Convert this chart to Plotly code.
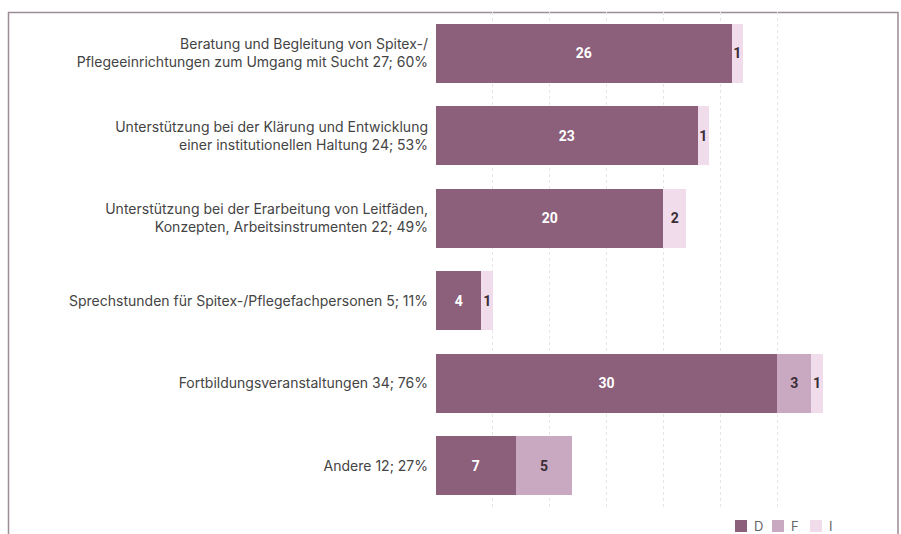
import plotly.graph_objects as go

categories = [
    "Beratung und Begleitung von Spitex-/<br>Pflegeeinrichtungen zum Umgang mit Sucht 27; 60%",
    "Unterstützung bei der Klärung und Entwicklung<br>einer institutionellen Haltung 24; 53%",
    "Unterstützung bei der Erarbeitung von Leitfäden,<br>Konzepten, Arbeitsinstrumenten 22; 49%",
    "Sprechstunden für Spitex-/Pflegefachpersonen 5; 11%",
    "Fortbildungsveranstaltungen 34; 76%",
    "Andere 12; 27%",
]
series_names = ["D", "F", "I"]
values_D = [26, 23, 20, 4, 30, 7]
values_F = [0, 0, 0, 0, 3, 5]
values_I = [1, 1, 2, 1, 1, 0]
series_values = [values_D, values_F, values_I]
colors = ["#8c5f7b", "#c9a8c1", "#f1dcec"]
text_colors = ["#ffffff", "#3a2d35", "#3a2d35"]

W, H = 901, 534
L, R, T, B = 436, 67, 12, 27
pw, ph = W - L - R, H - T - B
FONT = "Inter, Roboto, Arial, sans-serif"

fig = go.Figure()
for name, vals, col, tc in zip(series_names, series_values, colors, text_colors):
    fig.add_trace(go.Bar(
        y=categories, x=vals, name=name, orientation="h",
        marker=dict(color=col, line=dict(width=0)),
        text=[str(v) if v else "" for v in vals],
        textposition="inside", insidetextanchor="middle",
        textangle=0, constraintext="none",
        textfont=dict(family="Roboto, Arial, sans-serif", size=14, color=tc, weight="bold"),
        showlegend=False,
    ))

def px_to_paper_x(px):
    return (px - L) / pw

def px_to_paper_y(py):
    return (H - B - py) / ph

shapes = [dict(
    type="rect", xref="paper", yref="paper",
    x0=px_to_paper_x(8.5), x1=px_to_paper_x(898), y0=px_to_paper_y(560), y1=px_to_paper_y(12.5),
    line=dict(color="#9c8c96", width=1.5), fillcolor="rgba(0,0,0,0)", layer="below",
)]
annotations = []
legend_x = [735, 772, 810]
for name, col, lx in zip(series_names, colors, legend_x):
    shapes.append(dict(
        type="rect", xref="paper", yref="paper",
        x0=px_to_paper_x(lx), x1=px_to_paper_x(lx + 12),
        y0=px_to_paper_y(532), y1=px_to_paper_y(520),
        line=dict(width=0), fillcolor=col,
    ))
    annotations.append(dict(
        xref="paper", yref="paper", x=px_to_paper_x(lx + 17), y=px_to_paper_y(526),
        text=name, showarrow=False, xanchor="left", yanchor="middle",
        font=dict(family=FONT, size=13, color="#666666"),
    ))

fig.update_layout(
    width=W, height=H,
    margin=dict(l=L, r=R, t=T, b=B, pad=0),
    barmode="stack", bargap=0.285,
    plot_bgcolor="white", paper_bgcolor="white",
    font=dict(family=FONT, size=14, color="#444444"),
    xaxis=dict(range=[0, 35], dtick=5, showticklabels=False, showgrid=True,
               gridcolor="#e6e6e6", griddash="dot", gridwidth=1,
               zeroline=False, showline=False, fixedrange=True),
    yaxis=dict(autorange="reversed", showgrid=False, zeroline=False, showline=False,
               ticks="", ticklabelstandoff=7,
               tickfont=dict(family=FONT, size=14, color="#444444")),
    shapes=shapes, annotations=annotations,
    uniformtext=dict(mode=False),
)

fig.write_html("out.html", config={"displayModeBar": False},
               post_script="document.body.style.margin='0';document.body.style.padding='0';")
